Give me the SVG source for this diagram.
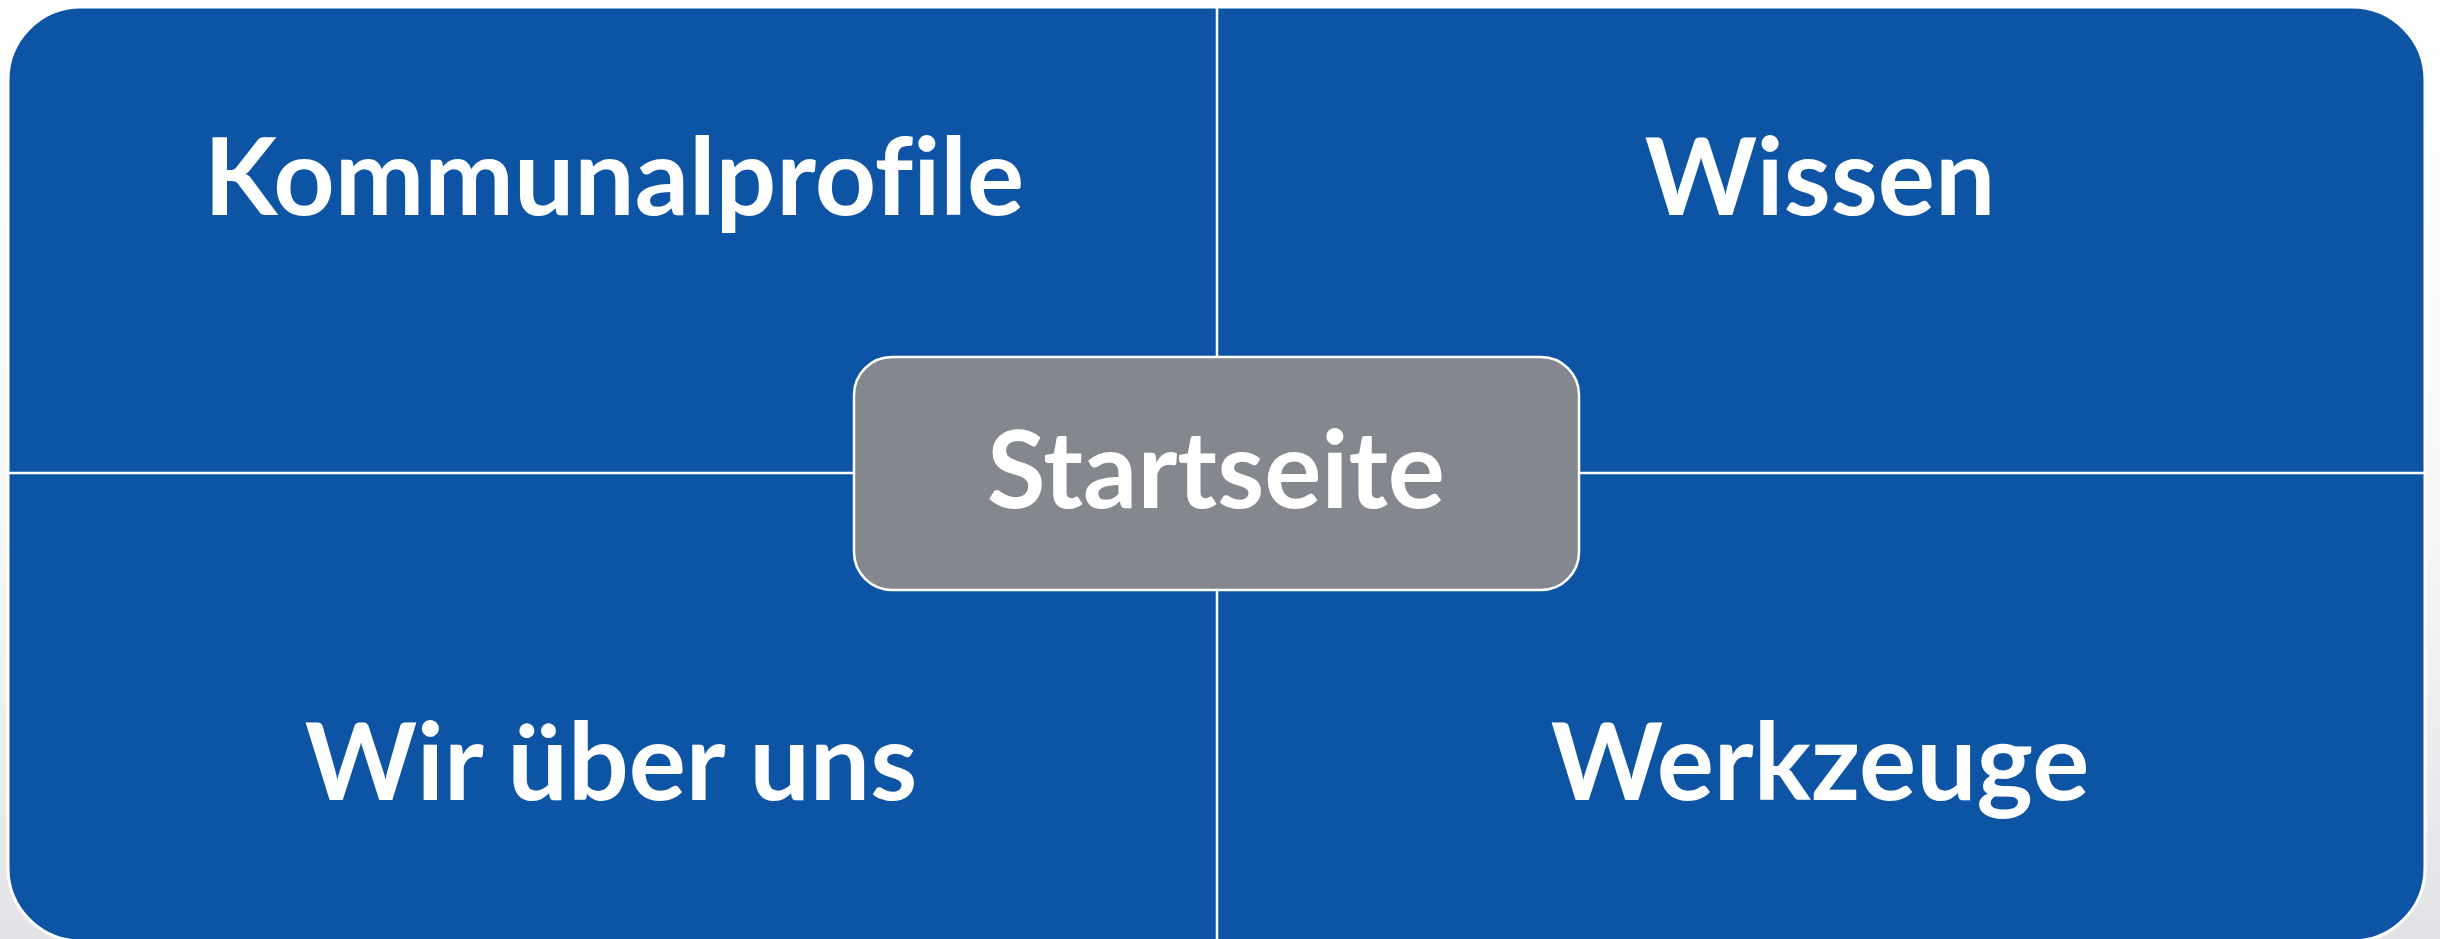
<svg xmlns="http://www.w3.org/2000/svg" width="2440" height="939" viewBox="0 0 2440 939">
  <defs>
    <linearGradient id="bg" x1="0" y1="0" x2="0" y2="1">
      <stop offset="0" stop-color="#ffffff"/>
      <stop offset="0.55" stop-color="#f7f7f8"/>
      <stop offset="1" stop-color="#e1e3e6"/>
    </linearGradient>
    <style>
      .label { font-family: Lato, "Liberation Sans", sans-serif; font-weight: 700; font-size: 107px; fill: #ffffff; text-anchor: middle; font-variant-ligatures: none; }
      .divider { stroke: #ffffff; stroke-width: 2.5; fill: none; }
    </style>
  </defs>
  <rect x="0" y="0" width="2440" height="939" fill="url(#bg)"/>
  <g id="panel">
    <rect x="8" y="7" width="2417" height="934" rx="73" ry="73" fill="#0d54a5" stroke="#ffffff" stroke-width="3"/>
  </g>
  <g id="connectors">
    <line class="divider" x1="1217" y1="7" x2="1217" y2="941"/>
    <line class="divider" x1="8" y1="473" x2="2425" y2="473"/>
  </g>
  <g id="kommunalprofile">
    <text class="label" x="614" y="215">Kommunalprofile</text>
  </g>
  <g id="wissen">
    <text class="label" x="1820" y="215">Wissen</text>
  </g>
  <g id="wir-ueber-uns">
    <text class="label" x="611" y="800">Wir über uns</text>
  </g>
  <g id="werkzeuge">
    <text class="label" x="1820" y="800">Werkzeuge</text>
  </g>
  <g id="startseite">
    <rect x="854" y="357" width="725" height="233" rx="38" ry="38" fill="#84878e" stroke="#ffffff" stroke-width="2.5"/>
    <text class="label" x="1216" y="508">Startseite</text>
  </g>
</svg>
